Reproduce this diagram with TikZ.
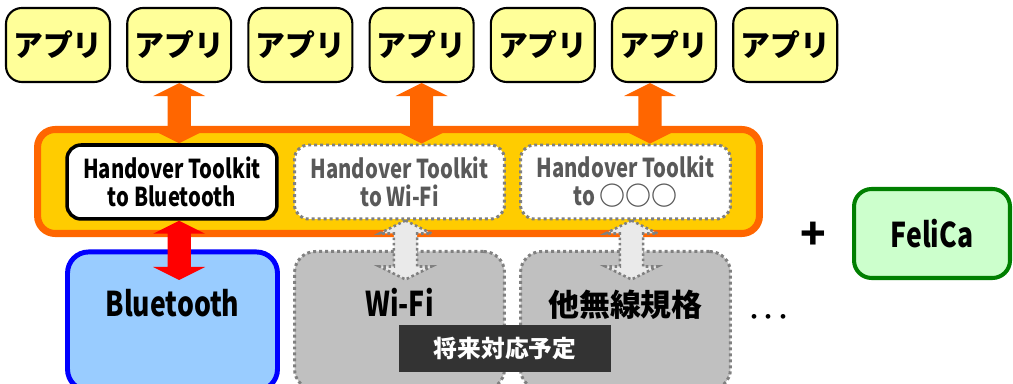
\documentclass[tikz,border=0pt]{standalone}
\usepackage{fontspec}
\usepackage{tikz}
\usetikzlibrary{arrows,positioning,calc}
\newfontfamily\jpfont{Noto Sans CJK JP}
\newfontfamily\latfont[FakeStretch=0.78]{Noto Sans CJK JP}
\definecolor{appyellow}{HTML}{FFFF99}
\definecolor{frameyellow}{HTML}{FFCC00}
\definecolor{frameorange}{HTML}{FF6600}
\definecolor{btblue}{HTML}{0000FF}
\definecolor{btfill}{HTML}{99CCFF}
\definecolor{dotgray}{HTML}{808080}
\definecolor{planfill}{HTML}{C0C0C0}
\definecolor{plantext}{HTML}{595959}
\definecolor{arrowgray}{HTML}{EAEAEA}
\definecolor{tagdark}{HTML}{333333}
\definecolor{felgreen}{HTML}{007F00}
\definecolor{felfill}{HTML}{CCFFCC}
% block arrow with a head at both ends, drawn along the x of the first point
\newcommand{\blockarrow}[3][]{%
  \path[#1] let \p1=(#2), \p2=(#3) in
    (\x1,\y1) -- (\x1+14.8pt,\y1-7.4pt) -- (\x1+6.6pt,\y1-7.4pt)
    -- (\x1+6.6pt,\y2+7.4pt) -- (\x1+14.8pt,\y2+7.4pt) -- (\x1,\y2)
    -- (\x1-14.8pt,\y2+7.4pt) -- (\x1-6.6pt,\y2+7.4pt)
    -- (\x1-6.6pt,\y1-7.4pt) -- (\x1-14.8pt,\y1-7.4pt) -- cycle;}

\begin{document}
\begin{tikzpicture}[x=0.02cm, y=-0.02cm,
   appbox/.style={draw=black, line width=1.2pt, fill=appyellow, rounded corners=9pt,
     minimum width=2.08cm, minimum height=1.48cm, inner sep=0pt,
     font=\jpfont\bfseries\fontsize{17}{20}\selectfont},
   frame/.style={draw=frameorange, line width=4pt, fill=frameyellow, rounded corners=10pt,
     minimum width=14.44cm, minimum height=2.08cm},
   kitbox/.style={fill=white, rounded corners=8pt, minimum width=4.2cm, minimum height=1.48cm,
     align=center, inner sep=0pt, font=\latfont\bfseries\fontsize{14.8}{16}\selectfont},
   kitsolid/.style={kitbox, draw=black, line width=2pt},
   kitplan/.style={kitbox, draw=dotgray, line width=1.7pt, dash pattern=on 1.7pt off 1.7pt, text=plantext},
   radio/.style={rounded corners=12pt, minimum width=4.2cm, inner sep=0pt, anchor=north,
     text height=1.3cm, text depth=1.47cm, font=\latfont\bfseries\fontsize{19.4}{22}\selectfont},
   radiobt/.style={radio, draw=btblue, line width=2.8pt, fill=btfill},
   radioplan/.style={radio, draw=dotgray, line width=1.7pt, dash pattern=on 1.7pt off 1.7pt, fill=planfill},
   solidarrow/.style={fill=#1},
   planarrow/.style={draw=dotgray, fill=arrowgray, line width=1.5pt, dash pattern=on 1.5pt off 1.5pt},
   tag/.style={fill=tagdark, text=white, minimum width=4.24cm, minimum height=0.94cm, inner sep=0pt,
     font=\jpfont\bfseries\fontsize{13.5}{16}\selectfont},
   cardbox/.style={draw=felgreen, line width=2.3pt, fill=felfill, rounded corners=10pt,
     minimum width=3.12cm, minimum height=1.78cm, font=\latfont\bfseries\fontsize{19.4}{22}\selectfont}]
  \useasboundingbox (0,0) rectangle (1013,384);
  % applications
  \node[appbox] (app1) at (58, 45) {アプリ};
  \node[appbox] (app2) at (179.2, 45) {アプリ};
  \node[appbox] (app3) at (300.4, 45) {アプリ};
  \node[appbox] (app4) at (421.6, 45) {アプリ};
  \node[appbox] (app5) at (542.8, 45) {アプリ};
  \node[appbox] (app6) at (664, 45) {アプリ};
  \node[appbox] (app7) at (785.2, 45) {アプリ};
  % toolkit layer
  \node[frame] (kit) at (398.5, 181.5) {};
  \node[kitsolid] (tk1) at (172, 182) {Handover Toolkit\\to Bluetooth};
  \node[kitplan] (tk2) at (399.5, 182) {Handover Toolkit\\to Wi-Fi};
  \node[kitplan] (tk3) at (625.5, 182) {Handover Toolkit\\to {\jpfont ○○○}};
  % radios
  \node[radiobt] (bt) at (172.5, 249.5) {Bluetooth};
  \node[radioplan] (wifi) at (399.5, 250) {Wi-Fi};
  \node[radioplan, font=\jpfont\bfseries\fontsize{17.6}{20}\selectfont] (other) at (625.5, 250) {他無線規格};
  \node (dots) at (769, 321) {\jpfont\fontsize{16}{18}\selectfont ･･･};
  \node[font=\jpfont\bfseries\fontsize{24}{26}\selectfont] (plus) at (813, 236) {+};
  \node[cardbox] (felica) at (932, 233.5) {FeliCa};
  % arrows
  \blockarrow[solidarrow=frameorange]{app2.south}{tk1.north}
  \blockarrow[solidarrow=frameorange]{app4.south}{tk2.north}
  \blockarrow[solidarrow=frameorange]{$(app6.south)+(-14,0)$}{tk3.north}
  \blockarrow[solidarrow=red]{$(app2.south|-tk1.south)$}{$(bt.north)+(0,30.5)$}
  \blockarrow[planarrow]{$(tk2.south)+(6,0)$}{$(wifi.north)+(0,29.5)$}
  \blockarrow[planarrow]{$(tk3.south)+(6,0)$}{$(other.north)+(0,29.5)$}
  \node[tag] (plan) at (505, 348.5) {将来対応予定};
\end{tikzpicture}
\end{document}
